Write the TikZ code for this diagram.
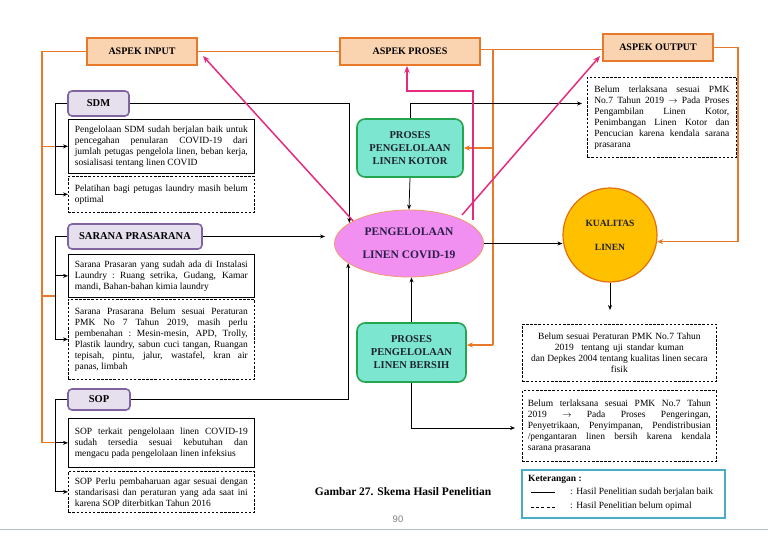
\documentclass[tikz,border=0pt]{standalone}
\usepackage{fontspec}
\setmainfont{Liberation Serif}
\newfontfamily\pgnum{Liberation Sans}
\usetikzlibrary{arrows.meta,shapes.geometric}
\definecolor{orB}{HTML}{E8782A}
\definecolor{orF}{HTML}{FAD3B0}
\definecolor{puB}{HTML}{8064A2}
\definecolor{puF}{HTML}{E5DFEE}
\definecolor{grB}{HTML}{26A550}
\definecolor{tlF}{HTML}{7DE6D0}
\definecolor{elF}{HTML}{F290F2}
\definecolor{elB}{HTML}{EE9A6A}
\definecolor{yeF}{HTML}{FFC000}
\definecolor{yeB}{HTML}{E3700F}
\definecolor{pkL}{HTML}{E62B7E}
\definecolor{lgB}{HTML}{4BACC6}
\definecolor{ruleC}{HTML}{B5C0C8}
\definecolor{txD}{HTML}{1E2230}
\definecolor{elT}{HTML}{2A1C48}
\newcommand{\jl}[1]{\noindent\makebox[\hsize][s]{\spaceskip=.25em plus 2em\xspaceskip=.25em plus 2em\relax #1}}
\newcommand{\nsp}{\spaceskip=.25em plus .1em\xspaceskip=.25em plus .1em\relax}
\begin{document}
\begin{tikzpicture}[x=1pt,y=-1pt,
  aspect/.style={draw=orB, fill=orF, line width=1.8pt, minimum height=27pt, inner sep=0pt, font=\fontsize{10}{12}\selectfont\bfseries},
  lab/.style={draw=puB, fill=puF, line width=1.6pt, rounded corners=4pt, minimum height=25pt, inner sep=0pt, font=\fontsize{10.5}{12}\selectfont\bfseries},
  txtbox/.style={draw=black, line width=0.7pt, anchor=north west, inner xsep=6.5pt, inner ysep=1pt, text width=173pt, align=justify, font=\fontsize{9.5}{11}\selectfont},
  dbox/.style={txtbox, dash pattern=on 2.5pt off 1.6pt},
  proc/.style={draw=grB, fill=tlF, line width=1.6pt, rounded corners=8pt, inner sep=0pt, align=center, font=\fontsize{10.5}{13}\selectfont\bfseries, text=txD},
  ln/.style={line width=0.75pt},
  arr/.style={ln, -{Stealth[length=5pt,width=4pt]}},
  oln/.style={draw=orB, line width=1.6pt},
  oarr/.style={oln, -{Stealth[length=6pt,width=5pt]}},
  parr/.style={draw=pkL, line width=1.5pt, -{Stealth[length=7pt,width=5.5pt]}},
  lgtext/.style={anchor=west, inner sep=0pt, font=\fontsize{9.5}{11}\selectfont},
]
\useasboundingbox (0,0) rectangle (768,543);

% aspect boxes
\node[aspect, minimum width=110pt] (aspin) at (142,51.5) {ASPEK INPUT};
\node[aspect, minimum width=140pt] (aspro) at (410,51.5) {ASPEK PROSES};
\node[aspect, minimum width=110pt] (aspout) at (658,47.5) {ASPEK OUTPUT};

% labels
\node[lab, minimum width=61pt] (sdm) at (98.5,103.5) {SDM};
\node[lab, minimum width=134pt] (sar) at (135,236.5) {SARANA PRASARANA};
\node[lab, minimum width=62pt, minimum height=21pt] (sop) at (99,399.5) {SOP};

% left text boxes
\node[txtbox, minimum height=54pt] (sdm1) at (68,119) {\jl{Pengelolaan SDM sudah berjalan baik untuk}\\ \jl{pencegahan penularan COVID-19 dari}\\ \jl{jumlah petugas pengelola linen, beban kerja,}\\ \nsp sosialisasi tentang linen COVID};
\node[dbox, minimum height=36pt] (sdm2) at (68,176) {\jl{Pelatihan bagi petugas laundry masih belum}\\ optimal};
\node[txtbox, minimum height=43pt] (sar1) at (68,254) {\jl{Sarana Prasaran yang sudah ada di Instalasi}\\ \jl{Laundry : Ruang setrika, Gudang, Kamar}\\ \nsp mandi, Bahan-bahan kimia laundry};
\node[dbox, minimum height=80pt] (sar2) at (68,299) {\jl{Sarana Prasarana Belum sesuai Peraturan}\\ \jl{PMK No 7 Tahun 2019, masih perlu}\\ \jl{pembenahan : Mesin-mesin, APD, Trolly,}\\ \jl{Plastik laundry, sabun cuci tangan, Ruangan}\\ \jl{tepisah, pintu, jalur, wastafel, kran air}\\ \nsp panas, limbah};
\node[txtbox, minimum height=49pt] (sop1) at (68,418) {\jl{SOP terkait pengelolaan linen COVID-19}\\ \jl{sudah tersedia sesuai kebutuhan dan}\\ \nsp mengacu pada pengelolaan linen infeksius};
\node[dbox, minimum height=41pt] (sop2) at (68,471) {\jl{SOP Perlu pembaharuan agar sesuai dengan}\\ \jl{standarisasi dan peraturan yang ada saat ini}\\ \nsp karena SOP diterbitkan Tahun 2016};

% right text boxes
\node[dbox, text width=135pt, inner xsep=7pt, minimum height=80pt] (tr) at (587,77) {\jl{Belum terlaksana sesuai PMK}\\ \jl{No.7 Tahun 2019 $\rightarrow$ Pada Proses}\\ \jl{Pengambilan Linen Kotor,}\\ \jl{Penimbangan Linen Kotor dan}\\ \jl{Pencucian karena kendala sarana}\\ prasarana};
\node[dbox, text width=183pt, inner xsep=5.5pt, minimum height=57pt, align=center] (kb1) at (522,324) {\nsp Belum sesuai Peraturan PMK No.7 Tahun\\ \nsp 2019~ tentang uji standar kuman\\ \nsp dan Depkes 2004 tentang kualitas linen secara\\ fisik};
\node[dbox, text width=183pt, inner xsep=5.5pt, minimum height=71pt] (kb2) at (522,390) {\jl{Belum terlaksana sesuai PMK No.7 Tahun}\\ \jl{2019 $\rightarrow$ Pada Proses Pengeringan,}\\ \jl{Penyetrikaan, Penyimpanan, Pendistribusian}\\ \jl{/pengantaran linen bersih karena kendala}\\ \nsp sarana prasarana};

% central shapes
\node[proc, minimum width=106pt, minimum height=58pt] (kotor) at (410,148) {PROSES\\ PENGELOLAAN\\ LINEN KOTOR};
\node[proc, minimum width=109pt, minimum height=59pt] (bersih) at (411.5,352.5) {PROSES\\ PENGELOLAAN\\ LINEN BERSIH};
\node[ellipse, draw=elB, fill=elF, line width=0.8pt, minimum width=149pt, minimum height=67pt, inner sep=0pt, align=center, font=\fontsize{11.5}{23}\selectfont\bfseries, text=elT] (ell) at (409,243.5) {PENGELOLAAN\\ LINEN COVID-19};
\node[circle, draw=yeB, fill=yeF, line width=1.2pt, minimum size=94pt, inner sep=0pt, align=center, font=\fontsize{9.5}{24}\selectfont\bfseries, text=txD] (kual) at (610,235) {KUALITAS\\ LINEN};

% coordinates
\coordinate (oA) at (42,51.5);
\coordinate (oB) at (42,442.5);
\coordinate (oS) at (42,296);
\coordinate (bx) at (55,0);
\coordinate (oP) at (493,49.5);
\coordinate (oQ) at (493,345);
\coordinate (oR) at (738,47.5);
\coordinate (sarE) at (325,236.5);
\coordinate (trE) at (582,103.5);
\coordinate (kbE) at (515,428);
\coordinate (kualE) at (610,310);
\coordinate (pinA) at (203,56);
\coordinate (pinB) at (473,220);
\coordinate (pinC) at (407,91);
\coordinate (pinE) at (462,215);
\coordinate (pinF) at (600,56);

% orange connectors
\draw[oln] (aspin.east) -- (aspro.west);
\draw[oln] (aspin.west) -- (oA) -- (oB) -- (bx |- oB);
\draw[oln] (oA |- sdm1.west) -- (bx |- sdm1.west);
\draw[oln] (oS) -- (bx |- oS);
\draw[oln] (aspro.east |- oP) -- (aspout.west |- oP);
\draw[oln] (oP) -- (oQ);
\draw[oarr] (oP |- kotor.east) -- (kotor.east);
\draw[oarr] (oQ) -- (bersih.east |- oQ);
\draw[oarr] (aspout.east) -- (oR) |- (kual.-8);

% black brackets
\draw[ln] (sdm.west) -| (bx |- sdm2.west);
\draw[arr] (bx |- sdm1.west) -- (sdm1.west);
\draw[arr] (bx |- sdm2.west) -- (sdm2.west);
\draw[ln] (sar.west) -| (bx |- sar2.west);
\draw[arr] (bx |- sar1.west) -- (sar1.west);
\draw[arr] (bx |- sar2.west) -- (sar2.west);
\draw[ln] (sop.west) -| (bx |- sop2.west);
\draw[arr] (bx |- sop1.west) -- (sop1.west);
\draw[arr] (bx |- sop2.west) -- (sop2.west);

% black connectors
\draw[arr] (sdm.east) -| (ell.161.7);
\draw[arr] (sar.east) -- (sarE);
\draw[arr] (sop.east) -| (ell.198.3);
\draw[arr] (kotor.north) |- (trE);
\draw[arr] (kotor.south) -- (ell.north);
\draw[arr] (bersih.north) -- (bersih.north |- ell.south);
\draw[arr] (bersih.south) |- (kbE);
\draw[arr] (ell.east) -- (ell.east -| kual.west);
\draw[arr] (kual.south) -- (kualE);

% pink connectors
\draw[parr] (ell.158) -- (pinA);
\draw[parr] (pinB) |- (pinC) -- (pinC |- aspro.south);
\draw[parr] (pinE) -- (pinF);

% legend
\node[draw=lgB, line width=1.8pt, minimum width=203pt, minimum height=48pt, anchor=north west, inner sep=0pt] (leg) at (521,469) {};
\node[lgtext, font=\fontsize{9.5}{11}\selectfont\bfseries] (ket) at (528,479) {Keterangan :};
\draw[ln] (531,492) -- (555,492);
\draw[ln, dash pattern=on 3pt off 2.2pt] (531,507) -- (555,507);
\node[lgtext] (lg1) at (570,492.5) {:\hspace{3.5pt}Hasil Penelitian sudah berjalan baik};
\node[lgtext] (lg2) at (570,506) {:\hspace{3.5pt}Hasil Penelitian belum opimal};

% caption
\node[font=\fontsize{11.5}{13}\selectfont\bfseries] (cap) at (403,492) {Gambar 27. Skema Hasil Penelitian};
\node[font=\pgnum\fontsize{9.5}{11}\selectfont, text=gray] (pg) at (398,519) {90};
\draw[draw=ruleC, line width=1pt] (0,529) -- (768,529);
\end{tikzpicture}
\end{document}
